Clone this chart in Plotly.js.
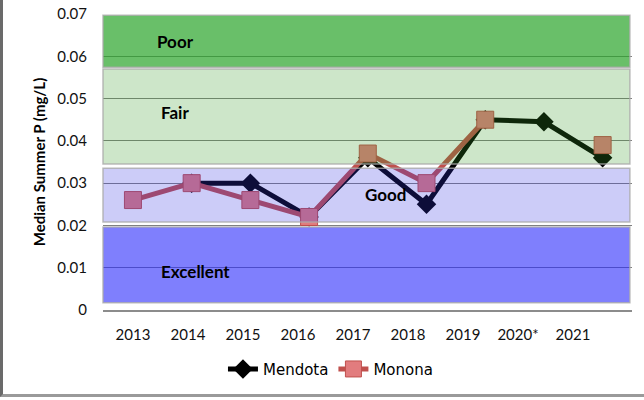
<!DOCTYPE html>
<html>
<head>
<meta charset="utf-8">
<script src="https://cdn.plot.ly/plotly-3.0.1.min.js"></script>
<style>
  body { margin: 0; background: #fff; }
  #wrap { position: relative; width: 644px; height: 400px; }
  #frame {
    position: absolute; left: 0; top: 0; width: 644px; height: 397px;
    box-sizing: border-box; border-left: 3px solid #6a6a6a; border-bottom: 3px solid #9a9a9a;
    pointer-events: none;
  }
</style>
</head>
<body>
<div id="wrap">
  <div id="myPlot"></div>
  <div id="frame"></div>
</div>
<script>
/**
 * Data
 */
const years = ["2013", "2014", "2015", "2016", "2017", "2018", "2019", "2020*", "2021"];
const mendota = [null, 0.030, 0.030, 0.022, 0.036, 0.025, 0.045, 0.0445, 0.036];
const monona = [0.026, 0.030, 0.026, 0.022, 0.037, 0.030, 0.045, null, 0.039];

// trophic bands (mg/L)
const bandNames = ["Poor", "Fair", "Good", "Excellent"];
const bandLow = [0.0574, 0.0345, 0.0208, 0.0017];
const bandHigh = [0.0697, 0.0570, 0.0335, 0.0196];
const bandColors = ["rgba(42,164,41,0.7)", "rgba(56,156,40,0.25)", "rgba(52,52,228,0.25)", "rgba(42,42,252,0.6)"];
// where each band's label sits (category index, value)
const labelX = [0.72, 0.72, 4.3, 1.06];
const labelY = [0.0635, 0.0468, 0.0274, 0.0092];

const myPlot = document.getElementById("myPlot");
const idx = years.map((y, i) => i);

const data = [
  {
    name: "Mendota",
    x: idx,
    y: mendota,
    mode: "lines+markers",
    type: "scatter",
    line: { color: "#000000", width: 5 },
    marker: { symbol: "diamond", size: 15, color: "#000000" }
  },
  {
    name: "Monona",
    x: idx,
    y: monona,
    mode: "lines+markers",
    type: "scatter",
    line: { color: "#c0504d", width: 5 },
    marker: { symbol: "square", size: 17, color: "#e27c7e", line: { color: "#c0504d", width: 1 } }
  },
  {
    // carries the year labels on the second x axis
    x: idx,
    y: idx.map(() => null),
    xaxis: "x2",
    type: "scatter",
    mode: "markers",
    showlegend: false,
    hoverinfo: "skip"
  }
];

const shapes = bandNames.map((n, i) => ({
  type: "rect",
  xref: "paper",
  yref: "y",
  x0: 0,
  x1: 0.996,
  y0: bandLow[i],
  y1: bandHigh[i],
  fillcolor: bandColors[i],
  line: { color: "rgba(170,170,170,0.8)", width: 1.5 },
  layer: "above"
}));

const annotations = bandNames.map((n, i) => ({
  text: "<b>" + n + "</b>",
  x: labelX[i],
  y: labelY[i],
  xref: "x",
  yref: "y",
  showarrow: false,
  font: { family: "Lato, 'Open Sans', sans-serif", size: 17, color: "#000" }
}));

const layout = {
  width: 644,
  height: 400,
  margin: { l: 103, r: 12, t: 14, b: 90 },
  paper_bgcolor: "#ffffff",
  plot_bgcolor: "#ffffff",
  showlegend: true,
  legend: {
    orientation: "h",
    x: 0.43,
    xanchor: "center",
    y: -0.2,
    yanchor: "middle",
    font: { family: "'DejaVu Sans', sans-serif", size: 15, color: "#000" },
    itemwidth: 30
  },
  xaxis: {
    range: [-0.51, 8.5],
    showticklabels: false,
    showgrid: false,
    zeroline: false,
    showline: true,
    linecolor: "#8c8c8c",
    linewidth: 2,
    ticks: ""
  },
  xaxis2: {
    overlaying: "x",
    anchor: "y",
    side: "bottom",
    range: [-0.545, 9.073],
    tickmode: "array",
    tickvals: idx,
    ticktext: years,
    showgrid: false,
    zeroline: false,
    showline: false,
    ticks: "outside",
    ticklen: 11,
    tickcolor: "rgba(0,0,0,0)",
    tickfont: { family: "Lato, 'Open Sans', sans-serif", size: 15, color: "#111" }
  },
  yaxis: {
    range: [0, 0.07],
    dtick: 0.01,
    tickformat: ".2~f",
    showgrid: true,
    gridcolor: "#808080",
    gridwidth: 1,
    zeroline: false,
    showline: false,
    ticks: "outside",
    ticklen: 12,
    tickcolor: "rgba(0,0,0,0)",
    tickfont: { family: "Lato, 'Open Sans', sans-serif", size: 15, color: "#111" },
    title: {
      text: "<b>Median Summer P (mg/L)</b>",
      font: { family: "Lato, 'Open Sans', sans-serif", size: 15, color: "#000" },
      standoff: 8
    }
  },
  shapes: shapes,
  annotations: annotations
};

Plotly.newPlot(myPlot, data, layout, { displayModeBar: false, staticPlot: true });
</script>
</body>
</html>
